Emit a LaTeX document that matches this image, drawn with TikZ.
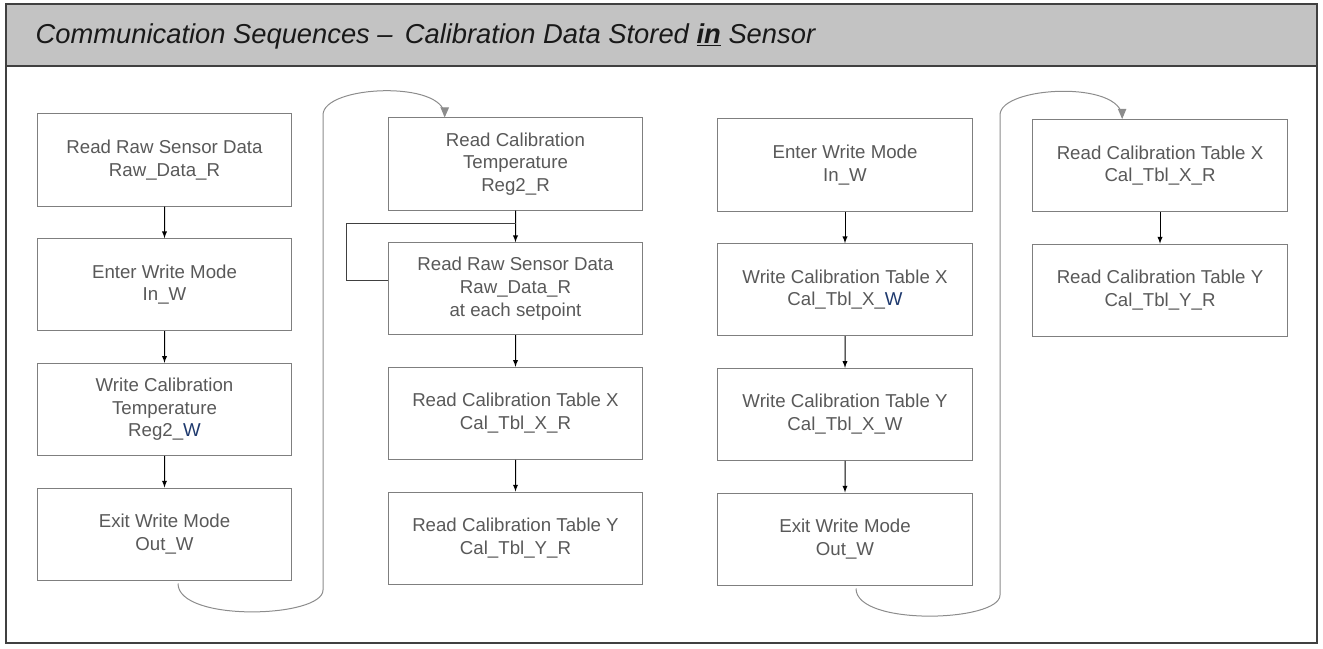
\documentclass[tikz,border=0pt]{standalone}
\usepackage{fontspec}
\setmainfont{Liberation Sans}
\usepackage{tikz}
\usetikzlibrary{calc,arrows,positioning}
\definecolor{boxline}{HTML}{7F7F7F}
\definecolor{boxtext}{HTML}{595959}
\definecolor{wblue}{HTML}{1F3A6E}
\definecolor{bandfill}{HTML}{C3C3C3}
\definecolor{linkgray}{HTML}{8C8C8C}
\tikzstyle{stepbox}=[draw=boxline,fill=white,rectangle,line width=0.75pt,minimum width=191pt,minimum height=69pt,inner sep=1pt,align=center,text=boxtext,font=\fontsize{14}{17}\selectfont]
\tikzstyle{link}=[draw=linkgray,line width=0.75pt,-triangle 45]
\tikzstyle{loopline}=[draw=black!75,line width=0.75pt]

\begin{document}
\begin{tikzpicture}[x=0.75pt,y=-0.75pt,
level distance=93.5pt,
every child node/.style={stepbox},
edge from parent/.style={draw,-latex,line width=0.75pt,black}]
\useasboundingbox (0,0) rectangle (1323,649);
\fill[bandfill] (6,4) rectangle (1317,66);
\draw[black!75,line width=1pt] (6,66) -- (1317,66);
\draw[black!75,line width=1pt] (6,4) rectangle (1317,643);
\node[anchor=west,text=black!90,font=\fontsize{20.5}{24}\selectfont\itshape] (title) at (31,36)
    {Communication Sequences – \,Calibration Data Stored \underline{\textbf{in}} Sensor};

\node[stepbox] (c1a) at (164.5,160) {Read Raw Sensor Data\\Raw\_Data\_R}
    child {
        node (c1b) {Enter Write Mode\\In\_W}
        child {
            node (c1c) {Write Calibration\\Temperature\\Reg2\_\textcolor{wblue}{W}}
            child {
                node (c1d) {Exit Write Mode\\Out\_W}
            }
        }
    };

\node[stepbox] (c2a) at (515.5,164) {Read Calibration\\Temperature\\Reg2\_R}
    child {
        node (c2b) {Read Raw Sensor Data\\Raw\_Data\_R\\at each setpoint}
        child {
            node (c2c) {Read Calibration Table X\\Cal\_Tbl\_X\_R}
            child {
                node (c2d) {Read Calibration Table Y\\Cal\_Tbl\_Y\_R}
            }
        }
    };

\node[stepbox] (c3a) at (845,165) {Enter Write Mode\\In\_W}
    child {
        node (c3b) {Write Calibration Table X\\Cal\_Tbl\_X\_\textcolor{wblue}{W}}
        child {
            node (c3c) {Write Calibration Table Y\\Cal\_Tbl\_X\_W}
            child {
                node (c3d) {Exit Write Mode\\Out\_W}
            }
        }
    };

\node[stepbox] (c4a) at (1160,165.5) {Read Calibration Table X\\Cal\_Tbl\_X\_R}
    child {
        node (c4b) {Read Calibration Table Y\\Cal\_Tbl\_Y\_R}
    };

\draw[loopline] ($(c2b.west)+(0,-8)$) -- ++(-41,0) |- ($(c2a.south)!0.42!(c2b.north)$);

\coordinate (lnk1) at ($(c1d.south)+(13.5,3)$);
\coordinate (lnk2) at ($(c3d.south)+(11,3)$);
\draw[link] (lnk1) .. controls +(0,39) and (323,618) .. (323,590) -- (323,115)
    .. controls (323,85) and (445,80) .. ($(c2a.north west)+(57,0)$);
\draw[link] (lnk2) .. controls +(0,38) and (1000,622) .. (1000,595) -- (1000,115)
    .. controls (1000,86) and (1122,80) .. ($(c4a.north west)+(90,0)$);
\end{tikzpicture}
\end{document}
